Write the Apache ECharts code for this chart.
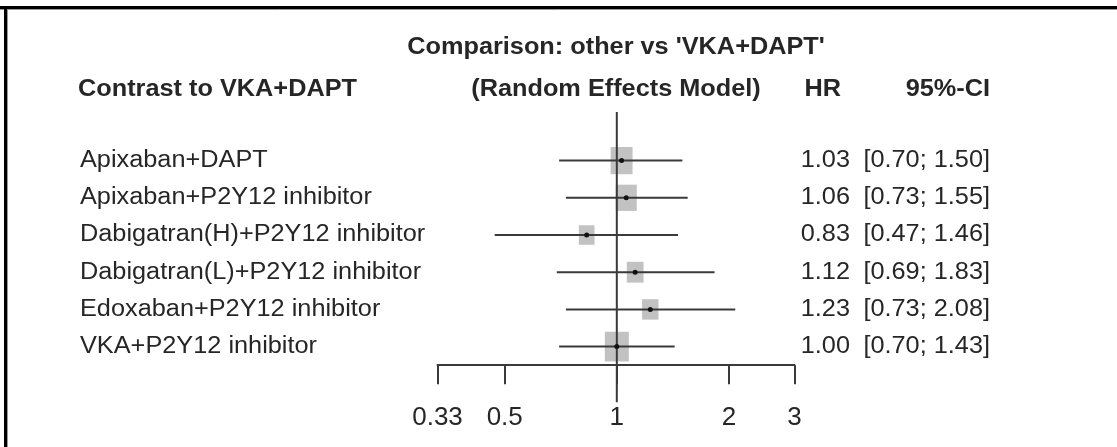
<!DOCTYPE html>
<html>
<head>
<meta charset="utf-8">
<script src="https://cdn.jsdelivr.net/npm/echarts@6/dist/echarts.min.js"></script>
<style>
  html, body { margin: 0; padding: 0; background: #fff; }
  #chart { width: 1117px; height: 447px; }
</style>
</head>
<body>
<div id="chart"></div>
<script>
// Network meta-analysis: hazard ratios versus VKA+DAPT (random effects model)
const treatments = [
  'Apixaban+DAPT',
  'Apixaban+P2Y12 inhibitor',
  'Dabigatran(H)+P2Y12 inhibitor',
  'Dabigatran(L)+P2Y12 inhibitor',
  'Edoxaban+P2Y12 inhibitor',
  'VKA+P2Y12 inhibitor'
];
const hazardRatio = [1.03, 1.06, 0.83, 1.12, 1.23, 1.00];
const ciLower     = [0.70, 0.73, 0.47, 0.69, 0.73, 0.70];
const ciUpper     = [1.50, 1.55, 1.46, 1.83, 2.08, 1.43];
// relative precision weights (box area is proportional to weight)
const weights     = [20.5, 19.0, 10.5, 12.0, 11.5, 24.5];
const tickLabels  = ['0.33', '0.5', '1', '2', '3'];
const referenceValue = 1;

const FONT = "'Liberation Sans', Arial, Helvetica, sans-serif";
const INK = '#262626';
const LINE = '#3a3a3a';
const STRETCH = 1.1;
const TEXT_SIZE = 23;

// the x axis is drawn on the natural-log scale of the hazard ratio
const tickValues = tickLabels.map(t => Math.log(Number(t)));
const axisMin = tickValues[0];
const axisMax = tickValues[tickValues.length - 1];

const rowData = treatments.map((name, i) => [
  Math.log(ciLower[i]), Math.log(ciUpper[i]), Math.log(hazardRatio[i]), i, weights[i]
]);

function boxSide(w) { return 4.85 * Math.sqrt(w); }

function textEl(x, y, text, opts) {
  return {
    type: 'text',
    x: x, y: y,
    scaleX: STRETCH,
    style: {
      text: text,
      fill: INK,
      font: (opts.bold ? 'bold ' : '') + TEXT_SIZE + 'px ' + FONT,
      align: opts.align, textAlign: opts.align,
      verticalAlign: 'middle', textVerticalAlign: 'middle'
    }
  };
}

const chart = echarts.init(document.getElementById('chart'), null, { renderer: 'canvas' });

const option = {
  animation: false,
  backgroundColor: '#fff',
  grid: { left: 437.5, right: 322.5, top: 142, height: 223.2, containLabel: false, outerBoundsMode: 'none' },
  xAxis: {
    type: 'value',
    min: axisMin,
    max: axisMax,
    splitLine: { show: false },
    axisLine: { show: true, onZero: false, lineStyle: { color: LINE, width: 2 } },
    axisTick: { show: true, customValues: tickValues, length: 19, inside: false, lineStyle: { color: LINE, width: 2 } },
    axisLabel: {
      show: true,
      customValues: tickValues,
      margin: 40,
      fontSize: 26,
      fontFamily: FONT,
      color: INK,
      formatter: function (v) {
        let best = 0;
        tickValues.forEach((t, k) => { if (Math.abs(t - v) < Math.abs(tickValues[best] - v)) best = k; });
        return tickLabels[best];
      }
    }
  },
  yAxis: {
    type: 'category',
    data: treatments,
    inverse: true,
    show: false
  },
  graphic: [
    // frame
    { type: 'line', shape: { x1: 0, y1: 7.5, x2: 1117, y2: 7.5 }, style: { stroke: '#000', lineWidth: 3 } },
    { type: 'line', shape: { x1: 0, y1: 9.5, x2: 1117, y2: 9.5 }, style: { stroke: '#999', lineWidth: 1 } },
    { type: 'line', shape: { x1: 5.5, y1: 6, x2: 5.5, y2: 447 }, style: { stroke: '#000', lineWidth: 3 } },
    { type: 'line', shape: { x1: 7.5, y1: 9, x2: 7.5, y2: 447 }, style: { stroke: '#999', lineWidth: 1 } },
    // headings
    textEl(616, 48, "Comparison: other vs 'VKA+DAPT'", { bold: true, align: 'center' }),
    textEl(616, 90, '(Random Effects Model)', { bold: true, align: 'center' }),
    textEl(78, 90, 'Contrast to VKA+DAPT', { bold: true, align: 'left' }),
    textEl(841, 90, 'HR', { bold: true, align: 'right' }),
    textEl(990, 90, '95%-CI', { bold: true, align: 'right' })
  ],
  series: [
    {
      // weight boxes
      type: 'custom',
      name: 'weight',
      clip: false,
      z: 1,
      data: rowData,
      encode: { x: [0, 1, 2], y: 3 },
      renderItem: function (params, api) {
        const c = api.coord([api.value(2), api.value(3)]);
        const s = boxSide(api.value(4));
        return {
          type: 'rect',
          shape: { x: c[0] - s / 2, y: c[1] - s * 0.62, width: s, height: s * 1.24 },
          style: { fill: '#c2c2c2' }
        };
      }
    },
    {
      // line of no effect
      type: 'custom',
      name: 'reference',
      clip: false,
      z: 2,
      data: [[Math.log(referenceValue), 0]],
      encode: { x: 0, y: 1 },
      renderItem: function (params, api) {
        const cs = params.coordSys;
        const x = api.coord([api.value(0), 0])[0];
        return {
          type: 'line',
          shape: { x1: x, y1: cs.y - 30, x2: x, y2: cs.y + cs.height + 37 },
          style: { stroke: LINE, lineWidth: 2 }
        };
      }
    },
    {
      // confidence intervals and point estimates
      type: 'custom',
      name: 'estimate',
      clip: false,
      z: 3,
      data: rowData,
      encode: { x: [0, 1, 2], y: 3 },
      renderItem: function (params, api) {
        const lo = api.coord([api.value(0), api.value(3)]);
        const hi = api.coord([api.value(1), api.value(3)]);
        const c = api.coord([api.value(2), api.value(3)]);
        return {
          type: 'group',
          children: [
            { type: 'line', shape: { x1: lo[0], y1: lo[1], x2: hi[0], y2: hi[1] }, style: { stroke: LINE, lineWidth: 2 } },
            { type: 'circle', shape: { cx: c[0], cy: c[1], r: 2.5 }, style: { fill: '#111' } }
          ]
        };
      }
    },
    {
      // row labels and numeric columns
      type: 'custom',
      name: 'labels',
      clip: false,
      z: 4,
      data: rowData,
      encode: { x: 2, y: 3 },
      renderItem: function (params, api) {
        const i = params.dataIndex;
        const y = api.coord([0, api.value(3)])[1];
        const ci = '[' + ciLower[i].toFixed(2) + '; ' + ciUpper[i].toFixed(2) + ']';
        return {
          type: 'group',
          children: [
            textEl(80, y, treatments[i], { align: 'left' }),
            textEl(850, y, hazardRatio[i].toFixed(2), { align: 'right' }),
            textEl(990, y, ci, { align: 'right' })
          ]
        };
      }
    }
  ]
};

chart.setOption(option);
</script>
</body>
</html>
